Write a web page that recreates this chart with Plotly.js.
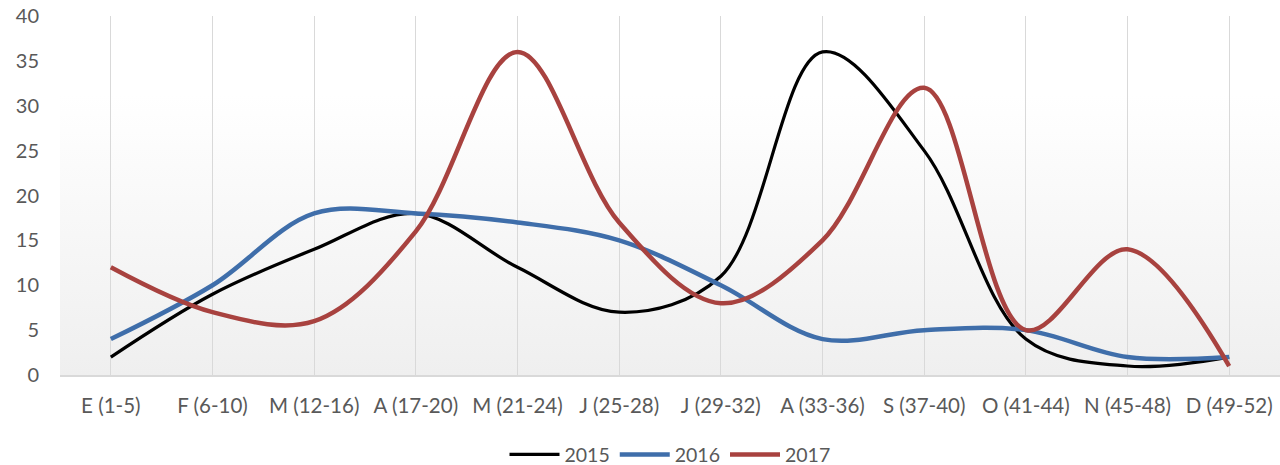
<!DOCTYPE html>
<html>
<head>
<meta charset="utf-8">
<script src="https://cdn.plot.ly/plotly-3.0.1.min.js"></script>
<style>
  html, body { margin:0; padding:0; background:#ffffff; }
  #wrap { position:relative; width:1280px; height:465px; }
  #bg { position:absolute; left:60px; top:16px; width:1220px; height:359px;
        background: linear-gradient(to bottom, #ffffff 0%, #ffffff 22%, #efefef 100%); }
  #chart { position:absolute; left:0; top:0; width:1280px; height:465px; }
</style>
</head>
<body>
<div id="wrap"><div id="bg"></div><div id="chart"></div></div>
<script>
const categories = ["E (1-5)", "F (6-10)", "M (12-16)", "A (17-20)", "M (21-24)", "J (25-28)",
                    "J (29-32)", "A (33-36)", "S (37-40)", "O (41-44)", "N (45-48)", "D (49-52)"];
const values2015 = [2, 9, 14, 18, 12, 7, 11, 36, 25, 4, 1, 2];
const values2016 = [4, 10, 18, 18, 17, 15, 10, 4, 5, 5, 2, 2];
const values2017 = [12, 7, 6, 16, 36, 17, 8, 15, 32, 5, 14, 1];
const seriesNames = ["2015", "2016", "2017"];

const colors = ["#000000", "#3F6EAA", "#A8423F"];
const widths = [3.2, 4.5, 4.5];
const allValues = [values2015, values2016, values2017];

const traces = allValues.map((v, i) => ({
  type: "scatter",
  mode: "lines",
  x: categories,
  y: v,
  name: seriesNames[i],
  line: { color: colors[i], width: widths[i], shape: "spline", smoothing: 1 },
  hoverinfo: "x+y+name"
}));

const layout = {
  width: 1280,
  height: 465,
  margin: { l: 60, r: 0, t: 16, b: 90, autoexpand: false },
  paper_bgcolor: "rgba(0,0,0,0)",
  plot_bgcolor: "rgba(0,0,0,0)",
  font: { family: "Lato, 'Liberation Sans', sans-serif", color: "#595959", size: 19 },
  showlegend: true,
  legend: {
    orientation: "h", x: 0.5, xanchor: "center",
    yref: "container", y: 0.022, yanchor: "middle",
    itemwidth: 50,
    font: { size: 19.5, color: "#595959" }, bgcolor: "rgba(0,0,0,0)"
  },
  xaxis: {
    type: "category",
    range: [-0.5, 11.5],
    showgrid: true, gridcolor: "#d9d9d9", gridwidth: 1,
    showline: true, linecolor: "#d9d9d9", linewidth: 1.5,
    zeroline: false,
    ticks: "",
    tickangle: 0,
    ticklabelstandoff: 12,
    tickfont: { size: 20.5, color: "#595959" },
    fixedrange: true
  },
  yaxis: {
    range: [0, 40],
    dtick: 5,
    showgrid: false,
    zeroline: false,
    showline: false,
    ticks: "",
    ticklabelstandoff: 20,
    tickfont: { size: 20, color: "#595959" },
    fixedrange: true
  }
};

Plotly.newPlot("chart", traces, layout, { displayModeBar: false, staticPlot: true });
</script>
</body>
</html>
